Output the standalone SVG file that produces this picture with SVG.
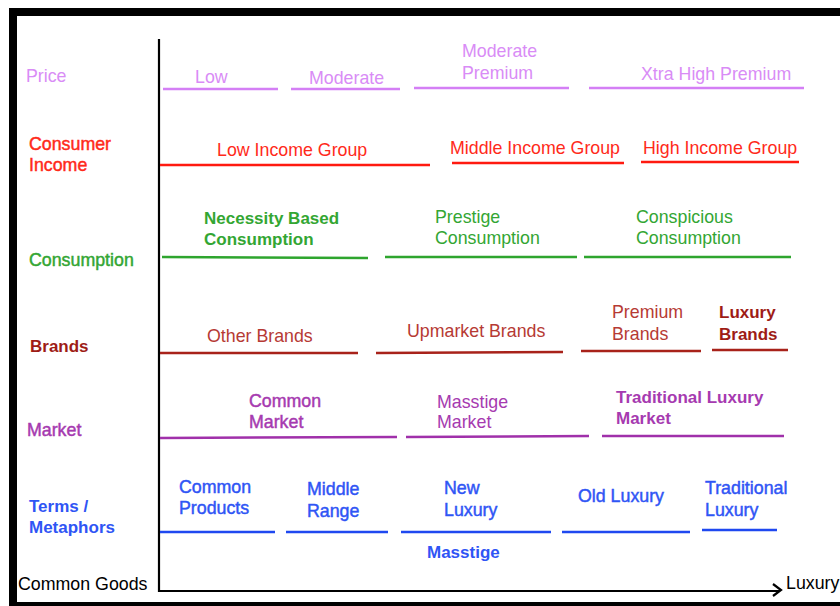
<svg xmlns="http://www.w3.org/2000/svg" width="840" height="606" viewBox="0 0 840 606">
  <defs>
    <style>
      text { font-family: "Liberation Sans", Arial, sans-serif; font-size: 17.8px; stroke-width: 0; }
      .b { font-weight: bold; font-size: 17px; }
      .m { stroke-width: 0.45; }
      .seg { stroke-width: 2.5; fill: none; stroke-linecap: butt; }
      .price { fill: #d98cf6; stroke: #d98cf6; } .price-l { stroke: #d47ff5; }
      .income { fill: #ff2a1a; stroke: #ff2a1a; } .income-l { stroke: #ff1a10; }
      .cons { fill: #33a633; stroke: #33a633; } .cons-l { stroke: #2ea52e; }
      .brand { fill: #b63a34; stroke: #b63a34; } .brand-l { stroke: #a8221a; }
      .brand-dk { fill: #9e1c16; stroke: #9e1c16; }
      .market { fill: #a63ab0; stroke: #a63ab0; } .market-l { stroke: #a030aa; }
      .terms { fill: #2f55f5; stroke: #2f55f5; } .terms-l { stroke: #1f48f0; }
      .axis { stroke: #000; stroke-width: 2.2; fill: none; }
    </style>
  </defs>

  <rect width="840" height="606" fill="#fff"/>
  <!-- outer frame (open on the right) -->
  <rect x="13" y="12" width="860" height="594" fill="none" stroke="#000" stroke-width="8"/>

  <!-- axes -->
  <g id="axes">
    <path class="axis" d="M159 39 V591 H780"/>
    <path class="axis" d="M773 584 L781 590 L773 596"/>
    <text x="18" y="590" fill="#000">Common Goods</text>
    <text x="786" y="589" fill="#000">Luxury</text>
  </g>

  <!-- row labels -->
  <g id="row-labels">
    <text class="price" x="26" y="82">Price</text>
    <text class="income m" x="29" y="150">Consumer</text>
    <text class="income m" x="29" y="171">Income</text>
    <text class="cons m" x="29" y="266">Consumption</text>
    <text class="brand-dk b" x="30" y="352">Brands</text>
    <text class="market m" x="27" y="436">Market</text>
    <text class="terms b" x="29" y="512">Terms /</text>
    <text class="terms b" x="29" y="533">Metaphors</text>
  </g>

  <!-- segments -->
  <g id="connectors">
    <line class="seg price-l" x1="163" y1="89" x2="278" y2="89"/>
    <line class="seg price-l" x1="291" y1="89" x2="400" y2="89"/>
    <line class="seg price-l" x1="414" y1="88" x2="569" y2="88"/>
    <line class="seg price-l" x1="589" y1="88" x2="804" y2="88"/>

    <line class="seg income-l" x1="160" y1="165" x2="430" y2="165"/>
    <line class="seg income-l" x1="452" y1="163" x2="624" y2="163"/>
    <line class="seg income-l" x1="641" y1="162" x2="799" y2="162"/>

    <line class="seg cons-l" x1="162" y1="257" x2="368" y2="258"/>
    <line class="seg cons-l" x1="385" y1="257" x2="577" y2="257"/>
    <line class="seg cons-l" x1="584" y1="257" x2="791" y2="257"/>

    <line class="seg brand-l" x1="160" y1="353" x2="358" y2="353"/>
    <line class="seg brand-l" x1="376" y1="353" x2="563" y2="352"/>
    <line class="seg brand-l" x1="581" y1="351" x2="701" y2="351"/>
    <line class="seg brand-l" x1="712" y1="350" x2="788" y2="350"/>

    <line class="seg market-l" x1="160" y1="438" x2="397" y2="437"/>
    <line class="seg market-l" x1="406" y1="437" x2="589" y2="436"/>
    <line class="seg market-l" x1="602" y1="436" x2="784" y2="436"/>

    <line class="seg terms-l" x1="160" y1="532" x2="275" y2="532"/>
    <line class="seg terms-l" x1="286" y1="532" x2="388" y2="532"/>
    <line class="seg terms-l" x1="401" y1="532" x2="551" y2="532"/>
    <line class="seg terms-l" x1="562" y1="532" x2="690" y2="532"/>
    <line class="seg terms-l" x1="702" y1="530" x2="777" y2="530"/>
  </g>

  <!-- price row -->
  <g id="price-low"><text class="price" x="195" y="83">Low</text></g>
  <g id="price-moderate"><text class="price" x="309" y="84">Moderate</text></g>
  <g id="price-moderate-premium">
    <text class="price" x="462" y="57">Moderate</text>
    <text class="price" x="462" y="79">Premium</text>
  </g>
  <g id="price-xtra-high"><text class="price" x="641" y="80">Xtra High Premium</text></g>

  <!-- consumer income row -->
  <g id="income-low"><text class="income" x="217" y="156">Low Income Group</text></g>
  <g id="income-middle"><text class="income" x="450" y="154">Middle Income Group</text></g>
  <g id="income-high"><text class="income" x="643" y="154">High Income Group</text></g>

  <!-- consumption row -->
  <g id="cons-necessity">
    <text class="cons b" x="204" y="224">Necessity Based</text>
    <text class="cons b" x="204" y="245">Consumption</text>
  </g>
  <g id="cons-prestige">
    <text class="cons" x="435" y="223">Prestige</text>
    <text class="cons" x="435" y="244">Consumption</text>
  </g>
  <g id="cons-conspicious">
    <text class="cons" x="636" y="223">Conspicious</text>
    <text class="cons" x="636" y="244">Consumption</text>
  </g>

  <!-- brands row -->
  <g id="brand-other"><text class="brand" x="207" y="342">Other Brands</text></g>
  <g id="brand-upmarket"><text class="brand" x="407" y="337">Upmarket Brands</text></g>
  <g id="brand-premium">
    <text class="brand" x="612" y="318">Premium</text>
    <text class="brand" x="612" y="340">Brands</text>
  </g>
  <g id="brand-luxury">
    <text class="brand-dk b" x="719" y="318">Luxury</text>
    <text class="brand-dk b" x="719" y="340">Brands</text>
  </g>

  <!-- market row -->
  <g id="market-common">
    <text class="market m" x="249" y="407">Common</text>
    <text class="market m" x="249" y="428">Market</text>
  </g>
  <g id="market-masstige">
    <text class="market" x="437" y="408">Masstige</text>
    <text class="market" x="437" y="428">Market</text>
  </g>
  <g id="market-traditional">
    <text class="market b" x="616" y="403">Traditional Luxury</text>
    <text class="market b" x="616" y="424">Market</text>
  </g>

  <!-- terms / metaphors row -->
  <g id="term-common">
    <text class="terms m" x="179" y="493">Common</text>
    <text class="terms m" x="179" y="514">Products</text>
  </g>
  <g id="term-middle">
    <text class="terms m" x="307" y="495">Middle</text>
    <text class="terms m" x="307" y="517">Range</text>
  </g>
  <g id="term-new-luxury">
    <text class="terms m" x="444" y="494">New</text>
    <text class="terms m" x="444" y="516">Luxury</text>
  </g>
  <g id="term-old-luxury"><text class="terms m" x="578" y="502">Old Luxury</text></g>
  <g id="term-traditional">
    <text class="terms m" x="705" y="494">Traditional</text>
    <text class="terms m" x="705" y="516">Luxury</text>
  </g>
  <g id="term-masstige"><text class="terms b" x="427" y="558">Masstige</text></g>
</svg>
